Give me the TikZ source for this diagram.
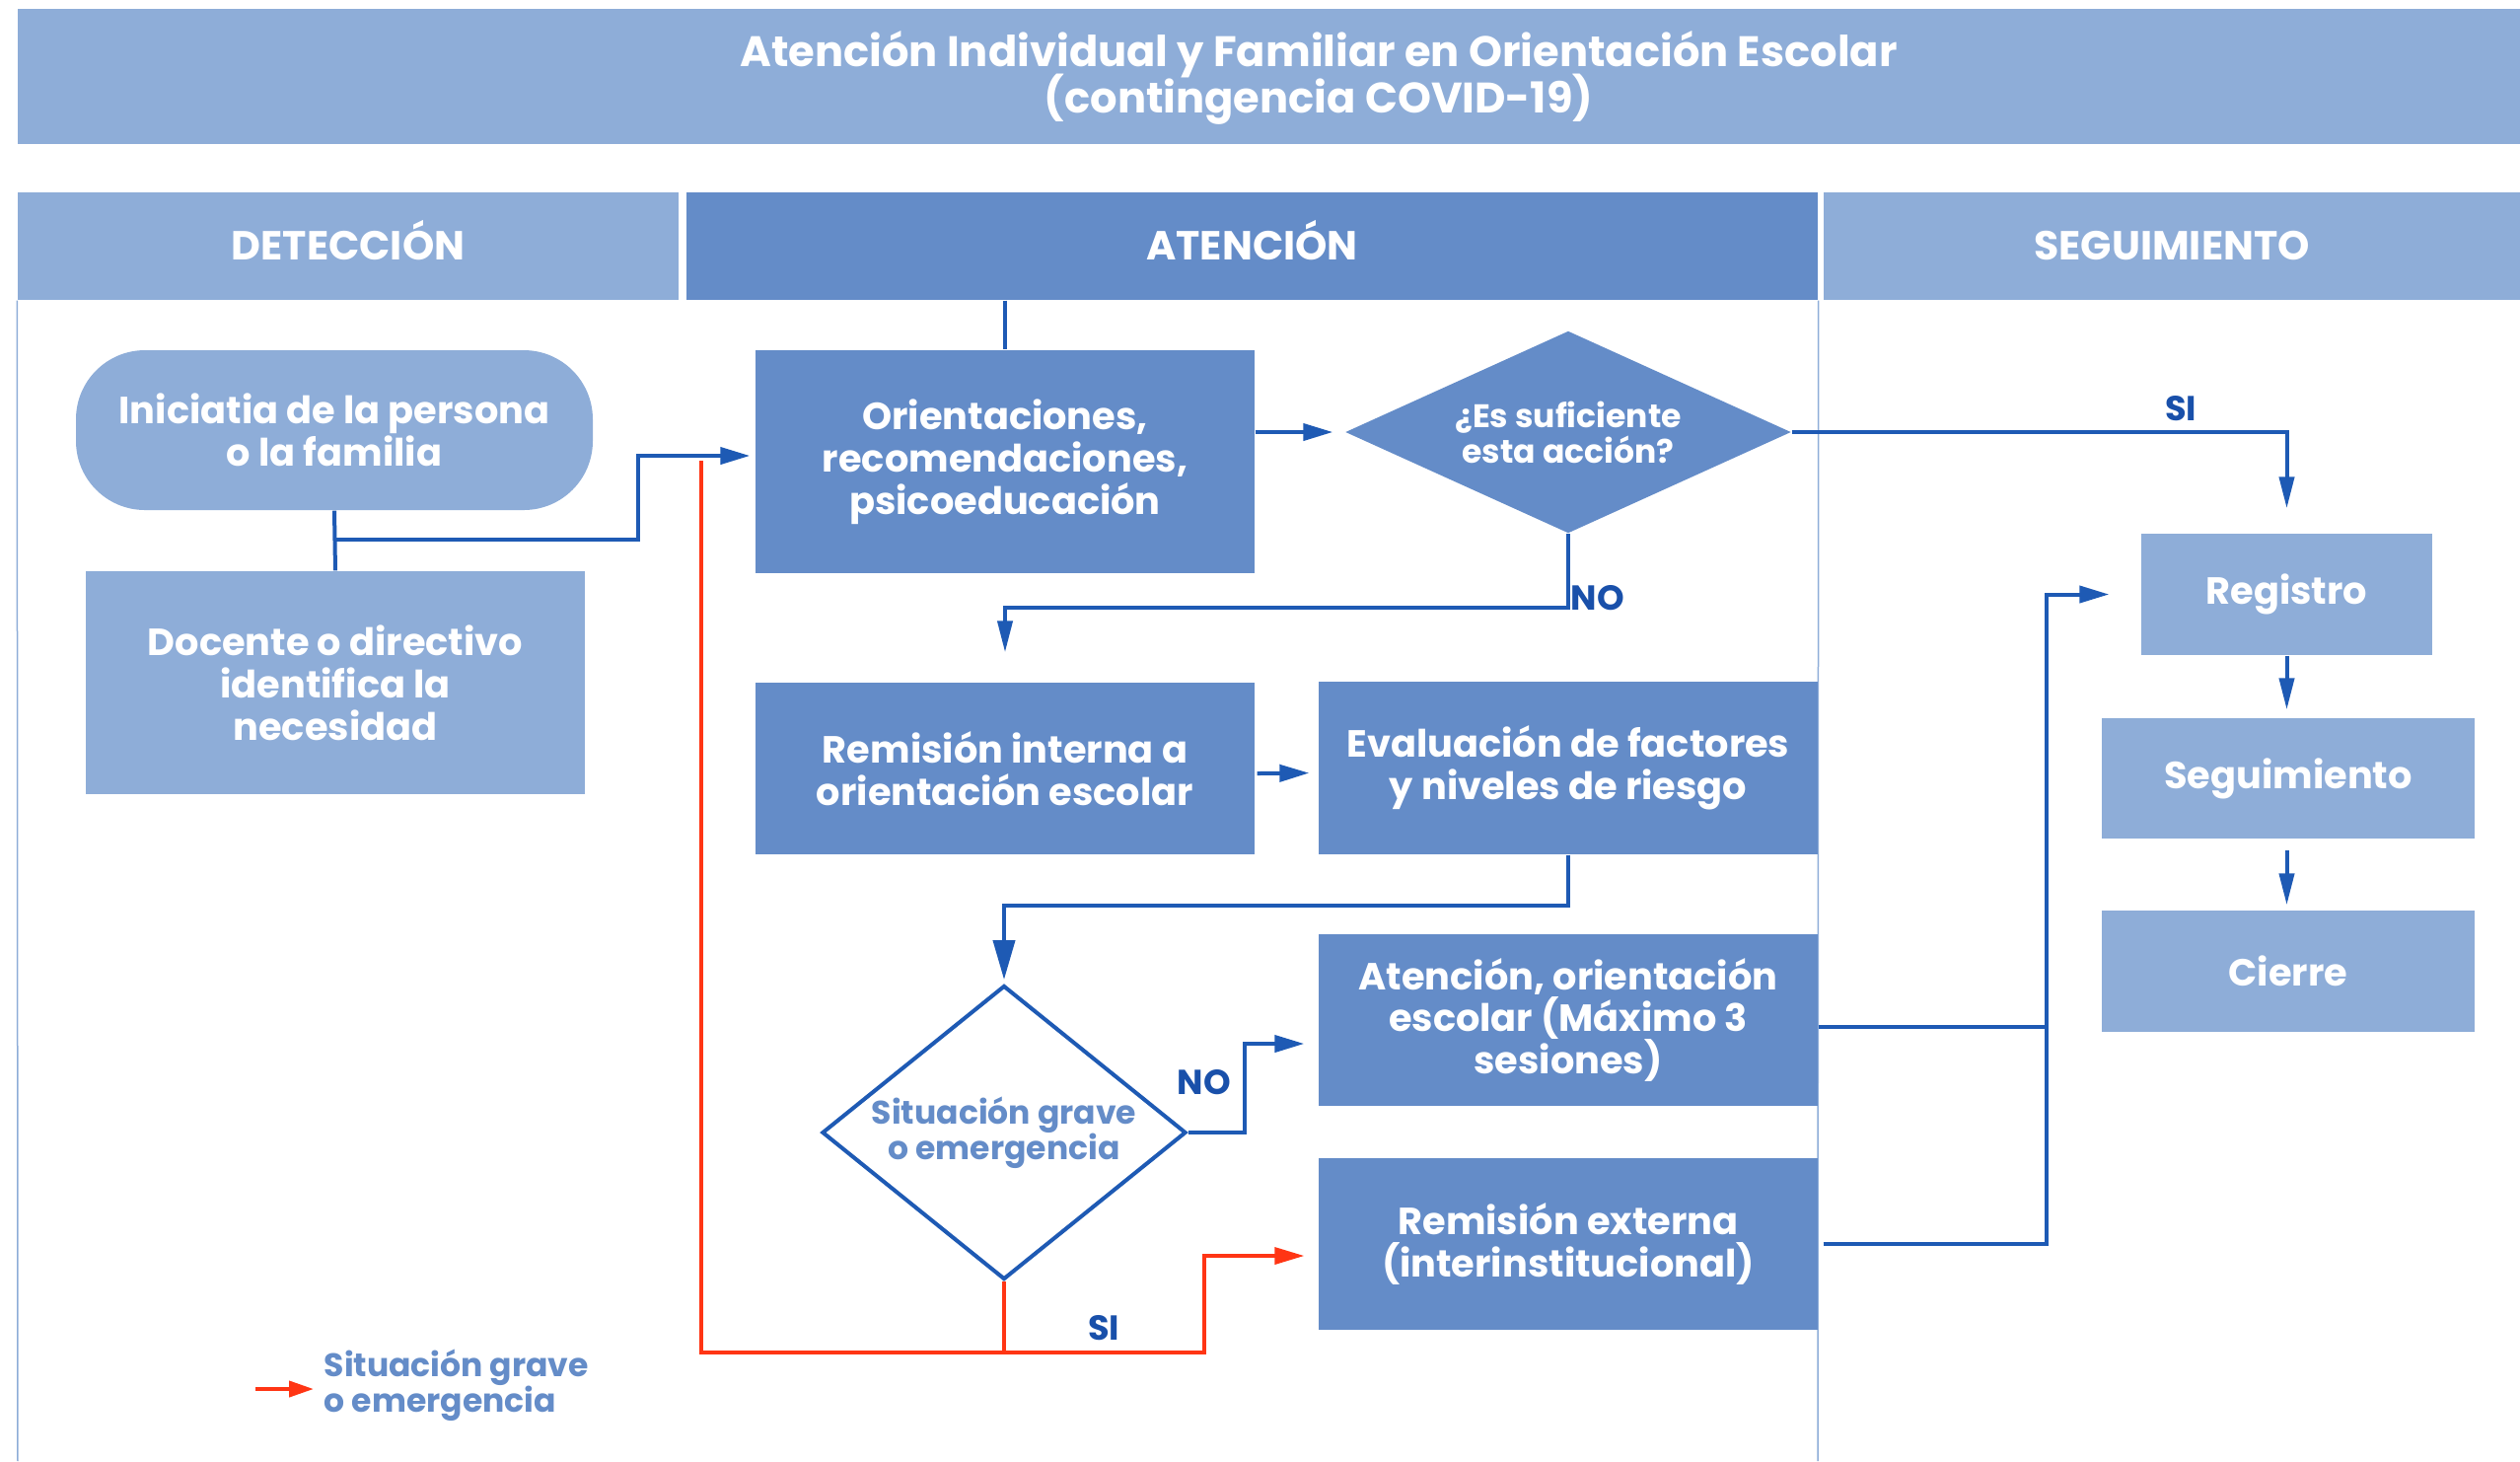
\documentclass[tikz,border=0pt]{standalone}
\usepackage{fontspec}
\setmainfont{Poppins}
\usetikzlibrary{shapes.geometric,arrows.meta,calc}
\definecolor{lblue}{RGB}{142,173,216}
\definecolor{mblue}{RGB}{100,140,200}
\definecolor{dblue}{RGB}{30,90,180}
\definecolor{lblab}{RGB}{25,80,170}
\definecolor{rline}{RGB}{255,53,20}
\newcommand{\nolskip}{\lineskiplimit=-20pt\relax}
\begin{document}
\begin{tikzpicture}[x=0.1mm,y=-0.1mm,
  box/.style={rectangle, inner sep=0pt, align=center, text=white, font=\fontsize{10.9}{12.2}\selectfont\bfseries\nolskip},
  lbox/.style={box, fill=lblue},
  mbox/.style={box, fill=mblue},
  hdr/.style={font=\fontsize{11.7}{12}\selectfont\bfseries, minimum height=10.9mm, text height=8.1pt, text depth=0pt},
  conn/.style={draw=dblue, line width=0.4mm},
  arr/.style={-{Triangle[length=3mm,width=1.7mm]}},
  varr/.style={-{Triangle[length=3.2mm,width=1.5mm]}},
  rconn/.style={draw=rline, line width=0.35mm},
  lab/.style={text=lblab, font=\fontsize{10}{10}\selectfont\bfseries, inner sep=0pt},
  lane/.style={draw=lblue, line width=0.15mm},
  dtext/.style={font=\fontsize{9.4}{10.3}\selectfont\bfseries\nolskip}]
\useasboundingbox (0,0) rectangle (2555,1481);
\fill[white] (0,0) rectangle (2555,1481);

% title
\node[lbox, minimum width=253.7mm, minimum height=13.7mm] (band) at (1286.5,77.5) {};
\node[text=white, align=center, inner sep=0pt, font=\fontsize{12.3}{13.4}\selectfont\bfseries\nolskip] (title) at (1337,79)
  {Atención Individual y Familiar en Orientación Escolar\\(contingencia COVID-19)};

% headers
\node[lbox, hdr, minimum width=67mm] (hdet) at (353,249.5) {DETECCIÓN};
\node[mbox, hdr, minimum width=114.7mm] (hate) at (1269.5,249.5) {ATENCIÓN};
\node[lbox, hdr, minimum width=70.6mm] (hseg) at (2202,249.5) {SEGUIMIENTO};

% lane lines
\draw[lane] (hdet.south west) -- (18,1481);
\draw[lane] (hate.south east) -- (1843,1481);

% nodes
\node[lbox, rounded corners=7mm, minimum width=52.4mm, minimum height=16.2mm] (ini) at (339,436)
  {Iniciatia de la persona\\o la familia};
\node[lbox, minimum width=50.6mm, minimum height=22.6mm] (doc) at (340,692)
  {Docente o directivo\\identifica la\\necesidad};
\node[mbox, minimum width=50.6mm, minimum height=22.6mm] (orient) at (1019,468)
  {Orientaciones,\\recomendaciones,\\psicoeducación};
\node[diamond, aspect=2.2, fill=mblue, text=white, align=center, inner sep=0pt, dtext,
  minimum width=45.2mm, minimum height=20.5mm] (q) at (1590,438)
  {¿Es suficiente\\esta acción?};
\node[mbox, minimum width=50.6mm, minimum height=17.4mm] (remint) at (1019,779)
  {Remisión interna a\\orientación escolar};
\node[mbox, minimum width=50.6mm, minimum height=17.5mm] (eval) at (1590,778.5)
  {Evaluación de factores\\y niveles de riesgo};
\node[diamond, aspect=1.24, fill=white, draw=dblue, line width=0.4mm, text=mblue, align=center, inner sep=0pt, dtext,
  minimum width=36.9mm, minimum height=29.8mm] (sit) at (1018,1148)
  {Situación grave\\o emergencia};
\node[mbox, minimum width=50.6mm, minimum height=17.4mm] (aten) at (1590,1034)
  {Atención, orientación\\escolar (Máximo 3\\sesiones)};
\node[mbox, minimum width=50.6mm, minimum height=17.4mm] (remext) at (1590,1261)
  {Remisión externa\\(interinstitucional)};
\node[lbox, minimum width=29.5mm, minimum height=12.3mm] (regis) at (2318.5,602.5) {Registro};
\node[lbox, minimum width=37.8mm, minimum height=12.2mm] (seg) at (2320,789) {Seguimiento};
\node[lbox, minimum width=37.8mm, minimum height=12.3mm] (cierre) at (2320,984.5) {Cierre};

% connectors
\draw[conn] (hate.south -| orient.north) -- (orient.north);
\draw[conn] (ini.south) -- (doc.north);
\draw[conn, arr, shorten >=0.5mm] (339,547) -- (647,547) |- ($(orient.west)+(0,-6)$);
\draw[conn, arr, shorten >=1.2mm] (orient.east |- q.west) -- (q.west);
\draw[conn, varr, shorten >=2.5mm] (q.east) -| (regis.north);
\node[lab] (si1) at (2211,414) {SI};
\draw[conn, varr, shorten >=3mm] (q.south) -- ++(0,75) -| (remint.north);
\node[lab, anchor=west] (no1) at (1592,606) {NO};
\draw[conn, arr, shorten >=0.9mm] ($(remint.east)+(2,5)$) -- ($(eval.west)+(0,5)$);
\draw[conn, -{Triangle[length=4mm,width=2.2mm]}, shorten >=0.4mm] (eval.south) -- ++(0,51) -| (sit.north);
\draw[conn, arr, shorten >=1.4mm] (sit.east) -- ++(57,0) |- ($(aten.west)+(0,24)$);
\node[lab] (no2) at (1221,1097) {NO};

% red emergency path
\coordinate (rtop) at (711,467);
\draw[rconn] (sit.south) -- (sit.south |- 0,1371);
\draw[rconn, arr, shorten >=1.4mm] (rtop) -- (711,1371) -- (1221,1371) |- ($(remext.west)+(0,12)$);
\node[lab] (si2) at (1119,1346) {SI};

% to Registro
\coordinate (jn) at ($(regis.west)+(-95,0)$);
\draw[conn] ($(aten.east)+(0,7)$) -- ($(aten.east -| jn)+(0,7)$);
\draw[conn, arr, shorten >=3.2mm] ($(remext.east)+(5,0)$) -| (jn) -- (regis.west);
\draw[conn, varr, shorten >=0.8mm] (regis.south) -- (regis.south |- seg.north);
\draw[conn, varr, shorten >=0.5mm, shorten <=1.1mm] (seg.south -| regis.south) -- (regis.south |- cierre.north);

% legend
\coordinate (lg1) at (259,1408);
\coordinate (lg2) at (318,1408);
\draw[rconn, line width=0.4mm, -{Triangle[length=2.5mm,width=1.6mm]}] (lg1) -- (lg2);
\node[anchor=west, text=mblue, align=left, inner sep=0pt, dtext] (legtxt) at (328,1404)
  {Situación grave\\o emergencia};
\end{tikzpicture}
\end{document}
